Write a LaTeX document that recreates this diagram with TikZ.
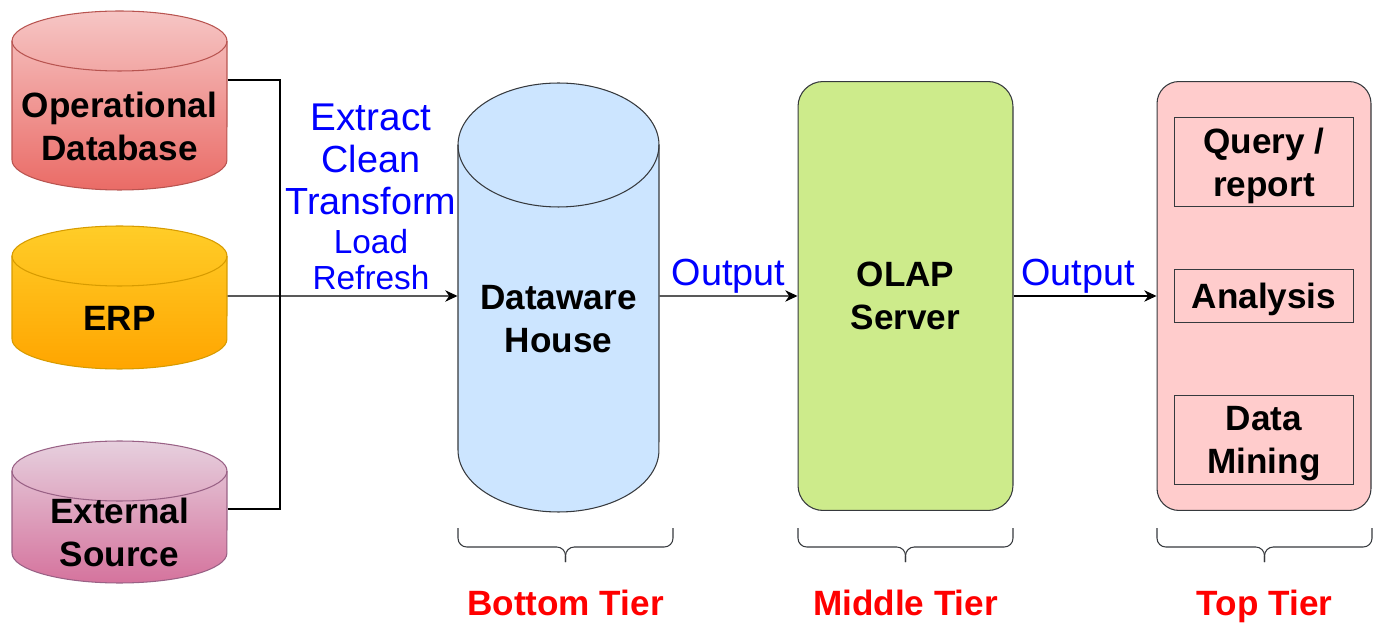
\documentclass[tikz,border=0pt]{standalone}
\usepackage{fontspec}
\setmainfont{Liberation Sans}
\usepackage{tikz}
\usetikzlibrary{arrows.meta, positioning}

\definecolor{topop}{HTML}{F6C6C5}
\definecolor{botop}{HTML}{EA6B66}
\definecolor{lineop}{HTML}{B85450}
\definecolor{toperp}{HTML}{FFCD28}
\definecolor{boterp}{HTML}{FFA500}
\definecolor{lineerp}{HTML}{D79B00}
\definecolor{topext}{HTML}{E6D0DE}
\definecolor{botext}{HTML}{D5739D}
\definecolor{lineext}{HTML}{996185}
\definecolor{dwfill}{HTML}{CCE5FF}
\definecolor{olapfill}{HTML}{CDEB8B}
\definecolor{tierfill}{HTML}{FFCCCC}
\definecolor{edge}{HTML}{36393D}

\tikzset{
  bold/.style={font=\fontsize{20}{24.5}\selectfont\bfseries, align=center, text=black, inner sep=0pt},
  lbl/.style={font=\fontsize{21.5}{24}\selectfont, text=blue, inner sep=1pt},
  small/.style={font=\fontsize{19}{24.2}\selectfont},
  tier/.style={font=\fontsize{20}{24}\selectfont\bfseries, text=red, text depth=0pt},
  box/.style={draw=edge, bold},
  arr/.style={-{Stealth[length=7pt, width=6.5pt]}},
}

\begin{document}
\begin{tikzpicture}[x=0.02cm, y=0.02cm, line width=0.6pt]
\useasboundingbox (0,0) rectangle (1381,622);

% sources
\foreach \nm/\yt/\h/\ty/\txt/\cl in {opdb/612/180/496/{Operational\\Database}/op,
                                     erp/397/144/304/ERP/erp,
                                     ext/182/143/90/{External\\Source}/ext} {
  \shadedraw[top color=top\cl, bottom color=bot\cl, draw=line\cl]
    (12,\yt-31) -- (12,\yt-\h+30) arc[start angle=180, end angle=360, x radius=2.15cm, y radius=0.6cm]
    -- (227,\yt-31) arc[start angle=0, end angle=180, x radius=2.15cm, y radius=0.6cm] -- cycle;
  \draw[line\cl] (12,\yt-31) arc[start angle=180, end angle=360, x radius=2.15cm, y radius=0.6cm];
  \node[bold, minimum width=4.3cm] (\nm) at (119.5,\ty) {\txt};
}

% bottom tier
\filldraw[fill=dwfill, draw=edge] (458,477) -- (458,172)
  arc[start angle=180, end angle=360, x radius=2.01cm, y radius=1.24cm] -- (659,477)
  arc[start angle=0, end angle=180, x radius=2.01cm, y radius=1.24cm] -- cycle;
\draw[edge] (458,477) arc[start angle=180, end angle=360, x radius=2.01cm, y radius=1.24cm];
\node[bold, minimum width=4.02cm] (dw) at (558.5,303) {Dataware\\House};

% middle and top tier
\node[box, fill=olapfill, rounded corners=0.5cm, minimum width=4.3cm, minimum height=8.58cm] (olap) at (905.5,326) {OLAP\\Server};
\node[box, fill=tierfill, rounded corners=0.44cm, minimum width=4.28cm, minimum height=8.58cm] (toptier) at (1264,326) {};
\node[box, text depth=0pt, minimum width=3.58cm, minimum height=1.78cm, below=0.72cm of toptier.north] (query) {Query /\\report};
\node[box, text depth=0pt, minimum width=3.58cm, minimum height=1.06cm] (analysis) at (toptier.center) {Analysis};
\node[box, text depth=0pt, minimum width=3.58cm, minimum height=1.78cm, above=0.52cm of toptier.south] (mining) {Data\\Mining};

% ETL
\coordinate (jn) at (280,326);
\node[lbl, align=center, inner sep=0pt] (etl) at (371,425)
  {\fontsize{22}{24.2}\selectfont Extract\\Clean\\Transform\\[-2pt]\fontsize{19}{24.2}\selectfont Load\\[-3.2pt]\fontsize{19}{24.2}\selectfont Refresh};
\draw ([yshift=0.92cm]opdb.east) -| (jn);
\draw ([yshift=0.46cm]ext.east) -| (jn);
\draw[arr] ([yshift=0.44cm]erp.east) -- ([yshift=0.46cm]dw.west);

\draw[arr] ([yshift=0.46cm]dw.east) -- node[lbl, above] {Output} (olap.west);
\draw[arr] (olap.east) -- node[lbl, above, pos=0.45] {Output} (toptier.west);

% tiers
\foreach \a/\b/\nm/\txt in {458/673/bot/Bottom Tier, 798/1013/mid/Middle Tier, 1157/1372/top/Top Tier} {
  \draw[edge, rounded corners=5pt] (\a,94) -- (\a,75) -- ({(\a+\b)/2},75) -- ({(\a+\b)/2},60);
  \draw[edge, rounded corners=5pt] (\b,94) -- (\b,75) -- ({(\a+\b)/2},75) -- ({(\a+\b)/2},60);
  \node[tier] (tier\nm) at ({(\a+\b)/2},19) {\txt};
}
\end{tikzpicture}
\end{document}
